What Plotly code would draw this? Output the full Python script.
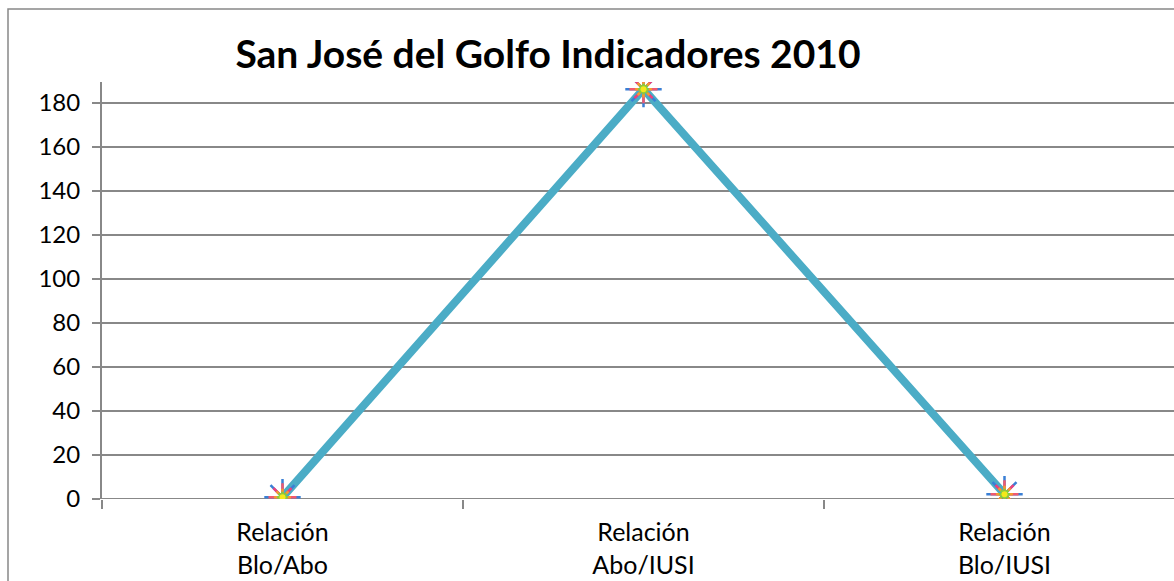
import plotly.graph_objects as go

categories = ["Relación<br>Blo/Abo", "Relación<br>Abo/IUSI", "Relación<br>Blo/IUSI"]
values = [0.8, 186.3, 2.2]
y_ticks = [0, 20, 40, 60, 80, 100, 120, 140, 160, 180]
title_text = "San José del Golfo Indicadores 2010"

xpos = list(range(len(categories)))
FONT = "Lato"

fig = go.Figure()
fig.add_trace(go.Scatter(
    x=xpos, y=values, mode="lines",
    line=dict(color="#4BACC6", width=8), hoverinfo="skip", showlegend=False))
# rainbow-ish asterisk markers (layered)
for sym, size, col, w in [
    ("x-thin-open", 24, "#3A7FD5", 2.5),
    ("cross-thin-open", 26, "#3A7FD5", 2.5),
    ("x-thin-open", 18, "#F0407A", 2.5),
    ("cross-thin-open", 20, "#F05A70", 2.5),
    ("asterisk-open", 14, "#F59A30", 2.5),
    ("asterisk-open", 9, "#7ED040", 2.5),
]:
    fig.add_trace(go.Scatter(x=xpos, y=values, mode="markers",
        marker=dict(symbol=sym, size=size, color=col, line=dict(color=col, width=w)),
        hoverinfo="skip", showlegend=False))
fig.add_trace(go.Scatter(x=xpos, y=values, mode="markers",
    marker=dict(symbol="circle", size=6, color="#F5E81A", line=dict(width=0)),
    hoverinfo="skip", showlegend=False))

fig.update_layout(
    width=1174, height=581,
    margin=dict(l=102, r=0, t=82, b=82),
    paper_bgcolor="white", plot_bgcolor="white",
    title=dict(text="<b>" + title_text + "</b>", x=(548) / 1174, xanchor="center",
               y=1 - 54 / 581, yanchor="middle",
               font=dict(family=FONT, size=39, color="black")),
    font=dict(family=FONT, size=24, color="black"),
    xaxis=dict(
        range=[-0.5, -0.5 + (1174 - 102) / 361],
        tickvals=xpos, ticktext=categories,
        ticks="", showgrid=False, zeroline=False,
        showline=False,
        tickfont=dict(family=FONT, size=25, color="black"),
        ticklabelstandoff=16,
        minor=dict(tickvals=[-0.5, 0.5, 1.5], ticks="outside", ticklen=9,
                   tickcolor="#888888", tickwidth=2, showgrid=False),
        fixedrange=True,
    ),
    yaxis=dict(
        range=[0, (499 - 82) / 2.2],
        tickvals=y_ticks, ticks="outside", ticklen=8, tickcolor="#888888", tickwidth=2,
        showgrid=True, gridcolor="#888888", gridwidth=1.5,
        zeroline=False, showline=True, linecolor="#888888", linewidth=2,
        tickfont=dict(family=FONT, size=24, color="black"),
        ticklabelstandoff=7,
        fixedrange=True,
    ),
)
# baseline (category axis)
fig.add_shape(type="line", xref="paper", yref="y", x0=0, x1=1, y0=0, y1=0,
              line=dict(color="#888888", width=2), layer="below")
# chart area frame
fig.add_shape(type="rect", xref="paper", yref="paper",
              x0=(8 - 102) / 1072, x1=1.05, y0=-0.3, y1=1 + (82 - 9) / 417,
              line=dict(color="#888888", width=1.5))
fig.write_html("out.html")
